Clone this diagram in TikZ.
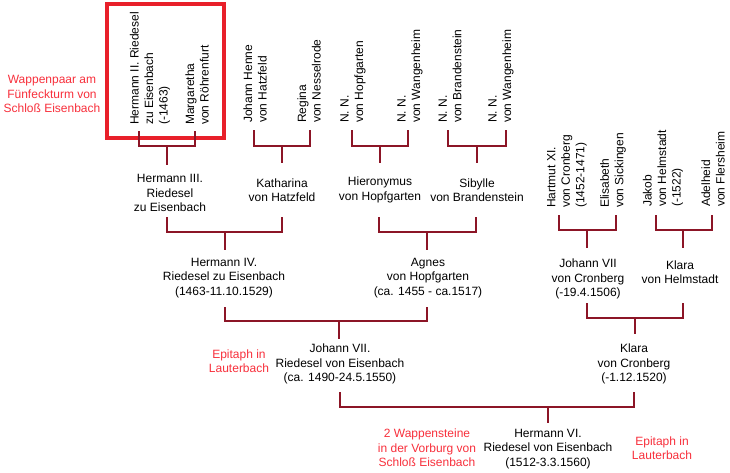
\documentclass[tikz,border=0pt]{standalone}
\usepackage{fontspec}
\setmainfont{Liberation Sans}
\definecolor{linkred}{HTML}{8C1526}
\definecolor{notered}{HTML}{F8303C}
\definecolor{boxred}{HTML}{E8202A}
\begin{document}
\begin{tikzpicture}[x=1pt,y=-1pt,
  every node/.style={font=\fontsize{12}{14.5}\selectfont, inner sep=0pt, align=center},
  person/.style={anchor=center},
  vperson/.style={rotate=90, anchor=west, align=left},
  note/.style={text=notered, anchor=center},
  link/.style={draw=linkred, line width=2.6pt, line cap=butt},
]
\useasboundingbox (0,0) rectangle (730,472);
\fill[white] (0,0) rectangle (730,472);

% red frame
\draw[boxred, line width=3.8pt] (107,4) rectangle (224,138);

% top rotated names
\node[vperson] (h2) at (150,125) {Hermann II. Riedesel\\zu Eisenbach\\(-1463)};
\node[vperson] (marg) at (197,125) {Margaretha\\von Röhrenfurt};
\node[vperson] (jhenne) at (255,123) {Johann Henne\\von Hatzfeld};
\node[vperson] (regina) at (309,123) {Regina\\von Nesselrode};
\node[vperson] (nnhopf) at (353,123) {N. N.\\von Hopfgarten};
\node[vperson] (nnwang1) at (410,123) {N. N.\\von Wangenheim};
\node[vperson] (nnbrand) at (450,123) {N. N.\\von Brandenstein};
\node[vperson] (nnwang2) at (501,123) {N. N.\\von Wangenheim};
\node[vperson] (hartmut) at (567,208) {Hartmut XI.\\von Cronberg\\(1452-1471)};
\node[vperson] (elis) at (613,208) {Elisabeth\\von Sickingen};
\node[vperson] (jakob) at (663,207) {Jakob\\von Helmstadt\\(-1522)};
\node[vperson] (adel) at (713,207) {Adelheid\\von Flersheim};

% second generation
\node[person] (h3) at (170,193) {Hermann III.\\Riedesel\\zu Eisenbach};
\node[person] (kath) at (282,190) {Katharina\\von Hatzfeld};
\node[person] (hier) at (380,190) {Hieronymus\\von Hopfgarten};
\node[person] (sib) at (477,190) {Sibylle\\von Brandenstein};
\node[person] (j7c) at (588,279) {Johann VII\\von Cronberg\\(-19.4.1506)};
\node[person] (klh) at (680,272) {Klara\\von Helmstadt};

% third generation
\node[person] (h4) at (224,278) {Hermann IV.\\Riedesel zu Eisenbach\\(1463-11.10.1529)};
\node[person] (agnes) at (428,278) {Agnes\\von Hopfgarten\\(ca. 1455 - ca.1517)};

% fourth generation
\node[person] (j7r) at (340,364) {Johann VII.\\Riedesel von Eisenbach\\(ca. 1490-24.5.1550)};
\node[person] (klc) at (634,364) {Klara\\von Cronberg\\(-1.12.1520)};

% fifth generation
\node[person] (h6) at (548,449) {Hermann VI.\\Riedesel von Eisenbach\\(1512-3.3.1560)};

% notes
\node[note] (n1) at (52,94) {Wappenpaar am\\Fünfeckturm von\\Schloß Eisenbach};
\node[note] (n2) at (239,361) {Epitaph in\\Lauterbach};
\node[note] (n3) at (427,448) {2 Wappensteine\\in der Vorburg von\\Schloß Eisenbach};
\node[note] (n4) at (662,448) {Epitaph in\\Lauterbach};

% bracket coordinates
\coordinate (a1) at (139,131); \coordinate (a2) at (195,131); \coordinate (am) at (167,146); \coordinate (ae) at (167,165);
\coordinate (b1) at (254,130); \coordinate (b2) at (310,130); \coordinate (bm) at (282,146); \coordinate (be) at (282,163);
\coordinate (c1) at (352,130); \coordinate (c2) at (408,130); \coordinate (cm) at (380,146); \coordinate (ce) at (380,163);
\coordinate (d1) at (448,130); \coordinate (d2) at (506,130); \coordinate (dm) at (477,146); \coordinate (de) at (477,163);
\coordinate (e1) at (559,215); \coordinate (e2) at (616,215); \coordinate (em) at (587,230); \coordinate (ee) at (587,248);
\coordinate (f1) at (656,215); \coordinate (f2) at (712,215); \coordinate (fm) at (683,230); \coordinate (fe) at (683,248);
\coordinate (g1) at (167,217); \coordinate (g2) at (282,217); \coordinate (gm) at (225,232); \coordinate (ge) at (225,250);
\coordinate (k1) at (379,217); \coordinate (k2) at (476,217); \coordinate (km) at (427,232); \coordinate (ke) at (427,250);
\coordinate (p1) at (225,307); \coordinate (p2) at (427,307); \coordinate (pm) at (339,321); \coordinate (pe) at (339,339);
\coordinate (q1) at (587,303); \coordinate (q2) at (683,303); \coordinate (qm) at (635,318); \coordinate (qe) at (635,334);
\coordinate (r1) at (340,392); \coordinate (r2) at (634,392); \coordinate (rm) at (548,407); \coordinate (re) at (548,423);

\foreach \s in {a,b,c,d,e,f,g,k,p,q,r}{
  \draw[link] (\s1) |- (\s m) -| (\s2);
  \draw[link] (\s m) -- (\s e);
}
\end{tikzpicture}
\end{document}
